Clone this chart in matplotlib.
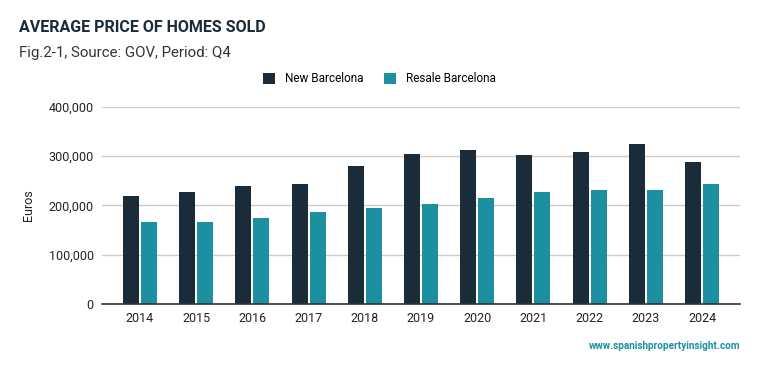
import numpy as np
import matplotlib
matplotlib.use("Agg")
import matplotlib.pyplot as plt
from matplotlib.ticker import FuncFormatter

plt.rcParams['font.family'] = ['Roboto', 'DejaVu Sans']

years = ['2014', '2015', '2016', '2017', '2018', '2019', '2020', '2021', '2022', '2023', '2024']
new_bcn = [219000, 227000, 239000, 243000, 280000, 304000, 312000, 302000, 308000, 325000, 288000]
resale_bcn = [166000, 166000, 174000, 186000, 194000, 204000, 215000, 227000, 231000, 231000, 243000]

dark = '#1a2b3a'
teal = '#1c8fa0'

fig = plt.figure(figsize=(7.59, 3.71), dpi=100)
ax = fig.add_axes([0.1344, 0.1806, 0.8406, 0.531])

x = np.arange(len(years))
w = 0.285
gap = 0.036
ax.bar(x - (w + gap) / 2, new_bcn, width=w, color=dark, label='New Barcelona', zorder=3)
ax.bar(x + (w + gap) / 2, resale_bcn, width=w, color=teal, label='Resale Barcelona', zorder=3)

ax.set_xlim(-0.675, len(years) - 0.325)
ax.set_ylim(0, 400000)
ax.set_yticks([0, 100000, 200000, 300000, 400000])
ax.yaxis.set_major_formatter(FuncFormatter(lambda v, p: f"{int(v):,}"))
ax.set_xticks(x)
ax.set_xticklabels(years)
ax.tick_params(axis='both', length=0, labelsize=9, colors='#222222')
ax.tick_params(axis='x', pad=6)
ax.tick_params(axis='y', pad=6)
ax.grid(axis='y', color='#cccccc', linewidth=1, zorder=0)
for s in ['top', 'right', 'left']:
    ax.spines[s].set_visible(False)
ax.spines['bottom'].set_color('#333333')
ax.spines['bottom'].set_linewidth(1.2)
ax.spines['bottom'].set_zorder(4)
ax.set_ylabel('Euros', fontsize=9, color='#222222', labelpad=10)

fig.text(19 / 759, 1 - 27 / 371, 'AVERAGE PRICE OF HOMES SOLD', fontsize=11.5,
         fontweight='bold', color=dark, va='center', ha='left')
fig.text(19 / 759, 1 - 53 / 371, 'Fig.2-1, Source: GOV, Period: Q4', fontsize=10.8,
         color='#333333', va='center', ha='left')

fig.legend(loc='center', bbox_to_anchor=(0.5, 1 - 79 / 371), ncol=2, frameon=False,
           fontsize=8.5, handlelength=1.0, handleheight=1.0, columnspacing=1.8,
           handletextpad=0.8)

fig.text(740 / 759, 1 - 346 / 371, 'www.spanishpropertyinsight.com', fontsize=7.2,
         color=teal, ha='right', va='center', fontweight='bold')

fig.savefig('out.png', dpi=100)
